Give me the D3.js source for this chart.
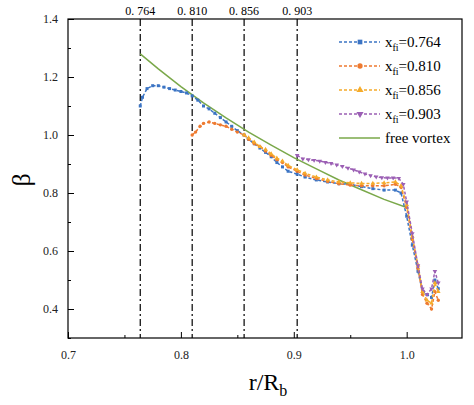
<!DOCTYPE html>
<html>
<head>
<meta charset="utf-8">
<script src="https://d3js.org/d3.v7.min.js"></script>
<style>
  body { margin: 0; background: #fff; }
  text { font-family: "Liberation Serif", "DejaVu Serif", serif; }
</style>
</head>
<body>
<div id="chart"></div>
<script>
// data
var s764 = [[0.764,1.10],[0.766,1.13],[0.770,1.16],[0.775,1.17],[0.780,1.17],[0.785,1.165],[0.790,1.16],[0.795,1.155],[0.800,1.15],[0.805,1.145],[0.810,1.135],[0.815,1.12],[0.820,1.10],[0.825,1.09],[0.830,1.075],[0.835,1.06],[0.840,1.045],[0.845,1.03],[0.850,1.015],[0.856,1.00],[0.860,0.985],[0.865,0.97],[0.870,0.955],[0.875,0.94],[0.880,0.925],[0.885,0.905],[0.890,0.89],[0.895,0.875],[0.903,0.865],[0.910,0.855],[0.920,0.845],[0.930,0.838],[0.940,0.832],[0.950,0.83],[0.960,0.822],[0.970,0.815],[0.980,0.81],[0.990,0.81],[0.995,0.80],[1.000,0.72],[1.005,0.62],[1.010,0.53],[1.014,0.46],[1.018,0.45],[1.022,0.44],[1.025,0.50],[1.028,0.47]];
var s810 = [[0.810,1.00],[0.813,1.01],[0.817,1.03],[0.820,1.04],[0.825,1.045],[0.830,1.04],[0.835,1.035],[0.840,1.03],[0.845,1.02],[0.850,1.01],[0.856,1.00],[0.860,0.985],[0.865,0.97],[0.870,0.96],[0.875,0.945],[0.880,0.93],[0.885,0.915],[0.890,0.905],[0.895,0.89],[0.903,0.875],[0.910,0.862],[0.920,0.85],[0.930,0.84],[0.940,0.832],[0.950,0.827],[0.960,0.825],[0.970,0.825],[0.980,0.825],[0.990,0.83],[0.995,0.82],[1.000,0.75],[1.005,0.64],[1.010,0.54],[1.014,0.45],[1.018,0.42],[1.022,0.40],[1.025,0.46],[1.028,0.43]];
var s856 = [[0.856,1.00],[0.860,0.99],[0.865,0.975],[0.870,0.96],[0.875,0.95],[0.880,0.935],[0.885,0.92],[0.890,0.91],[0.895,0.895],[0.903,0.88],[0.910,0.868],[0.920,0.855],[0.930,0.845],[0.940,0.838],[0.950,0.835],[0.960,0.833],[0.970,0.833],[0.980,0.835],[0.990,0.838],[0.995,0.825],[1.000,0.76],[1.005,0.65],[1.010,0.55],[1.014,0.46],[1.018,0.43],[1.022,0.42],[1.025,0.49],[1.028,0.46]];
var s903 = [[0.903,0.93],[0.908,0.918],[0.913,0.915],[0.918,0.913],[0.923,0.91],[0.928,0.906],[0.933,0.902],[0.938,0.897],[0.943,0.892],[0.948,0.886],[0.953,0.88],[0.958,0.873],[0.963,0.866],[0.968,0.86],[0.973,0.856],[0.978,0.853],[0.983,0.852],[0.988,0.852],[0.993,0.851],[0.997,0.83],[1.000,0.77],[1.005,0.66],[1.010,0.55],[1.014,0.47],[1.018,0.45],[1.022,0.47],[1.025,0.53],[1.028,0.49]];
var vortex = [[0.764,1.28],[0.780,1.228],[0.800,1.167],[0.820,1.111],[0.840,1.059],[0.860,1.010],[0.880,0.965],[0.900,0.922],[0.920,0.883],[0.940,0.845],[0.960,0.811],[0.980,0.778],[1.000,0.75]];
var cutLines = [0.764, 0.810, 0.856, 0.903];
var cutLabels = ["0. 764", "0. 810", "0. 856", "0. 903"];
var legendNames = ["0.764", "0.810", "0.856", "0.903"];
var colors = ["#3b74c4", "#ee7a30", "#f5ab2a", "#9b5fb4"];
var markers = [d3.symbolSquare, d3.symbolCircle, d3.symbolTriangle, d3.symbolTriangle];

var W = 474, H = 405;
var m = {left: 68, right: 12, top: 19, bottom: 67};
var svg = d3.select("#chart").append("svg").attr("width", W).attr("height", H);
var x = d3.scaleLinear().domain([0.7, 1.049]).range([m.left, W - m.right]);
var y = d3.scaleLinear().domain([0.3, 1.4]).range([H - m.bottom, m.top]);

// axes, ticks inward
var xa = svg.append("g").attr("transform", "translate(0," + (H - m.bottom) + ")")
  .call(d3.axisBottom(x).tickValues([0.7, 0.8, 0.9, 1.0]).tickSize(-6).tickPadding(12).tickFormat(d3.format(".1f")));
var ya = svg.append("g").attr("transform", "translate(" + m.left + ",0)")
  .call(d3.axisLeft(y).tickValues([0.4, 0.6, 0.8, 1.0, 1.2, 1.4]).tickSize(-6).tickPadding(10).tickFormat(d3.format(".1f")));
svg.append("g").attr("transform", "translate(0," + (H - m.bottom) + ")")
  .call(d3.axisBottom(x).tickValues([0.75, 0.85, 0.95]).tickSize(-3).tickFormat(""));
svg.append("g").attr("transform", "translate(" + m.left + ",0)")
  .call(d3.axisLeft(y).tickValues([0.3, 0.5, 0.7, 0.9, 1.1, 1.3]).tickSize(-3).tickFormat(""));
svg.selectAll(".domain").remove();
svg.selectAll(".tick text").style("font-size", "12px").attr("fill", "#222");
svg.append("rect").attr("x", m.left).attr("y", m.top)
  .attr("width", W - m.right - m.left).attr("height", H - m.bottom - m.top)
  .attr("fill", "none").attr("stroke", "#000").attr("stroke-width", 1.2);

// cut lines
cutLines.forEach(function (c, i) {
  svg.append("line").attr("x1", x(c)).attr("x2", x(c)).attr("y1", m.top).attr("y2", H - m.bottom)
    .attr("stroke", "#000").attr("stroke-width", 1.2).attr("stroke-dasharray", "7,3,2,3");
  svg.append("text").attr("x", x(c)).attr("y", m.top - 4).attr("text-anchor", "middle")
    .style("font-size", "12px").text(cutLabels[i]);
});

var line = d3.line().x(function (d) { return x(d[0]); }).y(function (d) { return y(d[1]); });
svg.append("path").datum(vortex).attr("d", line).attr("fill", "none")
  .attr("stroke", "#7aa84a").attr("stroke-width", 1.5);

[s764, s810, s856, s903].forEach(function (s, i) {
  svg.append("path").datum(s).attr("d", line).attr("fill", "none")
    .attr("stroke", colors[i]).attr("stroke-width", 1.5).attr("stroke-dasharray", "3,2");
  svg.append("g").selectAll("path").data(s).join("path")
    .attr("d", d3.symbol().type(markers[i]).size(9))
    .attr("transform", function (d) { return "translate(" + x(d[0]) + "," + y(d[1]) + ")" + (i === 3 ? " rotate(180)" : ""); })
    .attr("fill", colors[i]);
});

// legend
var lg = svg.append("g");
legendNames.forEach(function (n, i) {
  var ly = 42 + i * 24;
  lg.append("line").attr("x1", 339).attr("x2", 380).attr("y1", ly).attr("y2", ly)
    .attr("stroke", colors[i]).attr("stroke-width", 1.5).attr("stroke-dasharray", "3,2");
  lg.append("path").attr("d", d3.symbol().type(markers[i]).size(22))
    .attr("transform", "translate(360," + ly + ")" + (i === 3 ? " rotate(180)" : ""))
    .attr("fill", colors[i]);
  var t = lg.append("text").attr("x", 385).attr("y", ly + 5).style("font-size", "15px");
  t.append("tspan").text("x");
  t.append("tspan").attr("dy", 4).style("font-size", "10px").text("fi");
  t.append("tspan").attr("dy", -4).text("=" + n);
});
lg.append("line").attr("x1", 339).attr("x2", 380).attr("y1", 42 + 4 * 24).attr("y2", 42 + 4 * 24)
  .attr("stroke", "#7aa84a").attr("stroke-width", 1.5);
lg.append("text").attr("x", 385).attr("y", 42 + 4 * 24 + 5).style("font-size", "15px").text("free vortex");

// axis titles
svg.append("text").attr("transform", "translate(30,180) rotate(-90)").attr("text-anchor", "middle")
  .style("font-size", "26px").text("β");
var xt = svg.append("text").attr("x", 268).attr("y", 390).attr("text-anchor", "middle").style("font-size", "24px");
xt.append("tspan").text("r/R");
xt.append("tspan").attr("dy", 6).style("font-size", "16px").text("b");
</script>
</body>
</html>
